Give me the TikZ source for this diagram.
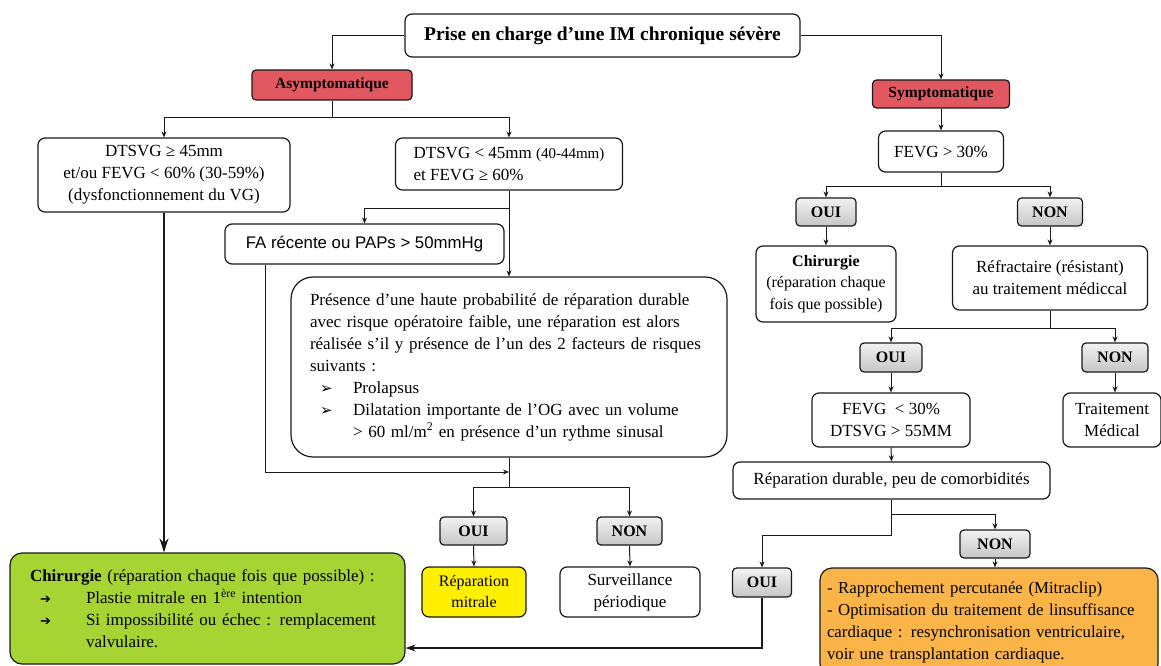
\documentclass[tikz,border=0pt]{standalone}
\usepackage{fontspec}
\setmainfont{Liberation Serif}
\newfontfamily\sansf{Liberation Sans}
\newfontfamily\dejavu{DejaVu Sans}
\usetikzlibrary{arrows.meta,calc}
\definecolor{redbox}{RGB}{226,88,96}
\definecolor{greenbox}{RGB}{166,212,50}
\definecolor{yellowbox}{RGB}{255,240,0}
\definecolor{orangebox}{RGB}{250,180,72}
\definecolor{ink}{RGB}{25,25,25}
\begin{document}
\begin{tikzpicture}[x=1pt,y=-1pt,
  box/.style={draw=ink, line width=1.2pt, rounded corners=7pt, fill=white, align=center, inner sep=0pt,
              font=\fontsize{17}{22}\selectfont},
  redb/.style={box, fill=redbox, rounded corners=4pt, font=\bfseries\fontsize{15.5}{18}\selectfont},
  yn/.style={box, rounded corners=4pt, top color=gray!10, bottom color=gray!45, font=\bfseries\fontsize{16}{19}\selectfont},
  conn/.style={line width=1pt, ink},
  arr/.style={conn, -{Stealth[length=6pt,width=5pt]}},
  bigarr/.style={line width=2pt, ink, -{Stealth[length=14pt,width=9pt]}},
  medarr/.style={line width=1.5pt, ink, -{Stealth[length=10pt,width=7pt]}}]
\clip (0,0) rectangle (1161,666);
\fill[white] (0,0) rectangle (1161,666);

% ---- top ----
\node[box, font=\bfseries\fontsize{19.5}{22}\selectfont, minimum width=395, minimum height=43] (title) at (602.5,35.5) {Prise en charge d’une IM chronique sévère};
\node[redb, minimum width=160, minimum height=30] (asym) at (332,85) {Asymptomatique};
\node[redb, minimum width=137, minimum height=28] (sym) at (941,94) {Symptomatique};

% ---- left branch ----
\node[box, minimum width=252, minimum height=74] (L1) at (164,175) {DTSVG ≥ 45mm\\et/ou FEVG < 60\% (30-59\%)\\(dysfonctionnement du VG)};
\node[box, align=left, minimum width=227, minimum height=52] (M1) at (509,164) {DTSVG < 45mm {\fontsize{15}{22}\selectfont (40-44mm)}\\et FEVG ≥ 60\%};
\node[box, font=\sansf\fontsize{16.8}{20}\selectfont, minimum width=279, minimum height=40] (FA) at (364.5,244) {FA récente ou PAPs > 50mmHg};
\node[box, rounded corners=22pt, align=left, text width=398pt, inner xsep=19pt, minimum height=180] (big) at (509,367) {Présence d’une haute probabilité de réparation durable\\
avec risque opératoire faible, une réparation est alors\\
réalisée s’il y présence de l’un des 2 facteurs de risques\\
suivants :\\
\hspace*{10pt}\makebox[33pt][l]{\dejavu\fontsize{15}{22}\selectfont ➢}Prolapsus\\
\hspace*{10pt}\makebox[33pt][l]{\dejavu\fontsize{15}{22}\selectfont ➢}Dilatation importante de l’OG avec un volume\\
\hspace*{43pt}> 60 ml/m\textsuperscript{2} en présence d’un rythme sinusal};
\node[yn, minimum width=67, minimum height=28] (oui4) at (473.5,531) {OUI};
\node[yn, minimum width=65, minimum height=28] (non4) at (629.5,531) {NON};
\node[box, fill=yellowbox, minimum width=104, minimum height=50, font=\fontsize{16}{21}\selectfont] (repmit) at (474,592) {Réparation\\mitrale};
\node[box, minimum width=140, minimum height=50] (surv) at (630,592) {Surveillance\\périodique};
\node[box, fill=greenbox, rounded corners=12pt, align=left, text width=355pt, inner xsep=20pt, minimum height=111, font=\fontsize{17}{22}\selectfont] (green) at (207.5,608.5) {\textbf{Chirurgie} (réparation chaque fois que possible) :\\
\hspace*{10pt}\makebox[46pt][l]{\dejavu\fontsize{13}{22}\selectfont ➔}Plastie mitrale en 1\textsuperscript{ère} intention\\
\hspace*{10pt}\makebox[46pt][l]{\dejavu\fontsize{13}{22}\selectfont ➔}Si impossibilité ou échec : remplacement\\
\hspace*{56pt}valvulaire.};

% ---- right branch ----
\node[box, minimum width=125, minimum height=41] (fevg30) at (941,151.5) {FEVG > 30\%};
\node[yn, minimum width=60, minimum height=28] (oui1) at (826,212) {OUI};
\node[yn, minimum width=65, minimum height=28] (non1) at (1050,212) {NON};
\node[box, minimum width=140, minimum height=76, font=\fontsize{16}{21.5}\selectfont] (chir) at (826,284) {\textbf{Chirurgie}\\(réparation chaque\\fois que possible)};
\node[box, minimum width=195, minimum height=64] (refr) at (1050,278) {Réfractaire (résistant)\\au traitement médiccal};
\node[yn, minimum width=62, minimum height=29] (oui2) at (891,357.5) {OUI};
\node[yn, minimum width=66, minimum height=29] (non2) at (1115,357.5) {NON};
\node[box, minimum width=158, minimum height=54] (fevg55) at (891,420) {FEVG\ \ < 30\%\\DTSVG > 55MM};
\node[box, minimum width=98, minimum height=54] (trait) at (1112,420) {Traitement\\Médical};
\node[box, minimum width=317, minimum height=37] (repdur) at (891.5,480.5) {Réparation durable, peu de comorbidités};
\node[yn, minimum width=70, minimum height=28] (non3) at (995,544) {NON};
\node[yn, minimum width=59, minimum height=29] (oui3) at (762,582.5) {OUI};
\node[box, fill=orangebox, rounded corners=12pt, align=left, text width=324pt, inner xsep=7pt, minimum height=108, font=\fontsize{16.8}{22}\selectfont] (orange) at (989,622) {- Rapprochement percutanée (Mitraclip)\\
- Optimisation du traitement de linsuffisance\\
cardiaque : resynchronisation ventriculaire,\\
voir une transplantation cardiaque.};

% ---- split points ----
\coordinate (asplit) at (332,118);
\coordinate (fasplit) at (509,208);
\coordinate (merge) at (509,472);
\coordinate (ynsplit) at (509,487);
\coordinate (fsplit) at (941,186);
\coordinate (rsplit) at (1050,328);
\coordinate (rdA) at (891.5,514);
\coordinate (rdB) at (891.5,535);

% ---- connectors ----
\draw[arr] (title.west) -| (asym.north);
\draw[arr] (title.east) -| (sym.north);
\draw[conn] (asym.south) -- (asplit);
\draw[arr] (asplit) -| (L1.north);
\draw[arr] (asplit) -| (M1.north);
\draw[arr] (M1.south) -- (M1.south |- big.north);
\draw[arr] (fasplit) -| (FA.north);
\draw[arr] ([xshift=-99.5pt]FA.south) |- (merge);
\draw[conn] (big.south) -- (ynsplit);
\draw[arr] (ynsplit) -| (oui4.north);
\draw[arr] (ynsplit) -| (non4.north);
\draw[arr] (oui4.south) -- (repmit.north);
\draw[arr] (non4.south) -- (surv.north);
\draw[bigarr] (L1.south) -- (L1.south |- green.north);

\draw[arr] (sym.south) -- (fevg30.north);
\draw[conn] (fevg30.south) -- (fsplit);
\draw[arr] (fsplit) -| (oui1.north);
\draw[arr] (fsplit) -| (non1.north);
\draw[arr] (oui1.south) -- (chir.north);
\draw[arr] (non1.south) -- (refr.north);
\draw[conn] (refr.south) -- (rsplit);
\draw[arr] (rsplit) -| (oui2.north);
\draw[arr] (rsplit) -| (non2.north);
\draw[arr] (oui2.south) -- (fevg55.north);
\draw[arr] (non2.south) -- (non2.south |- trait.north);
\draw[arr] (fevg55.south) -- (repdur.north);
\draw[conn] (repdur.south) -- (rdB);
\draw[arr] (rdA) -| (non3.north);
\draw[arr] (rdB) -| (oui3.north);
\draw[arr] (non3.south) -- (non3.south |- orange.north);
\draw[medarr] (oui3.south) |- ([yshift=-39.5pt]green.east);
\end{tikzpicture}
\end{document}
